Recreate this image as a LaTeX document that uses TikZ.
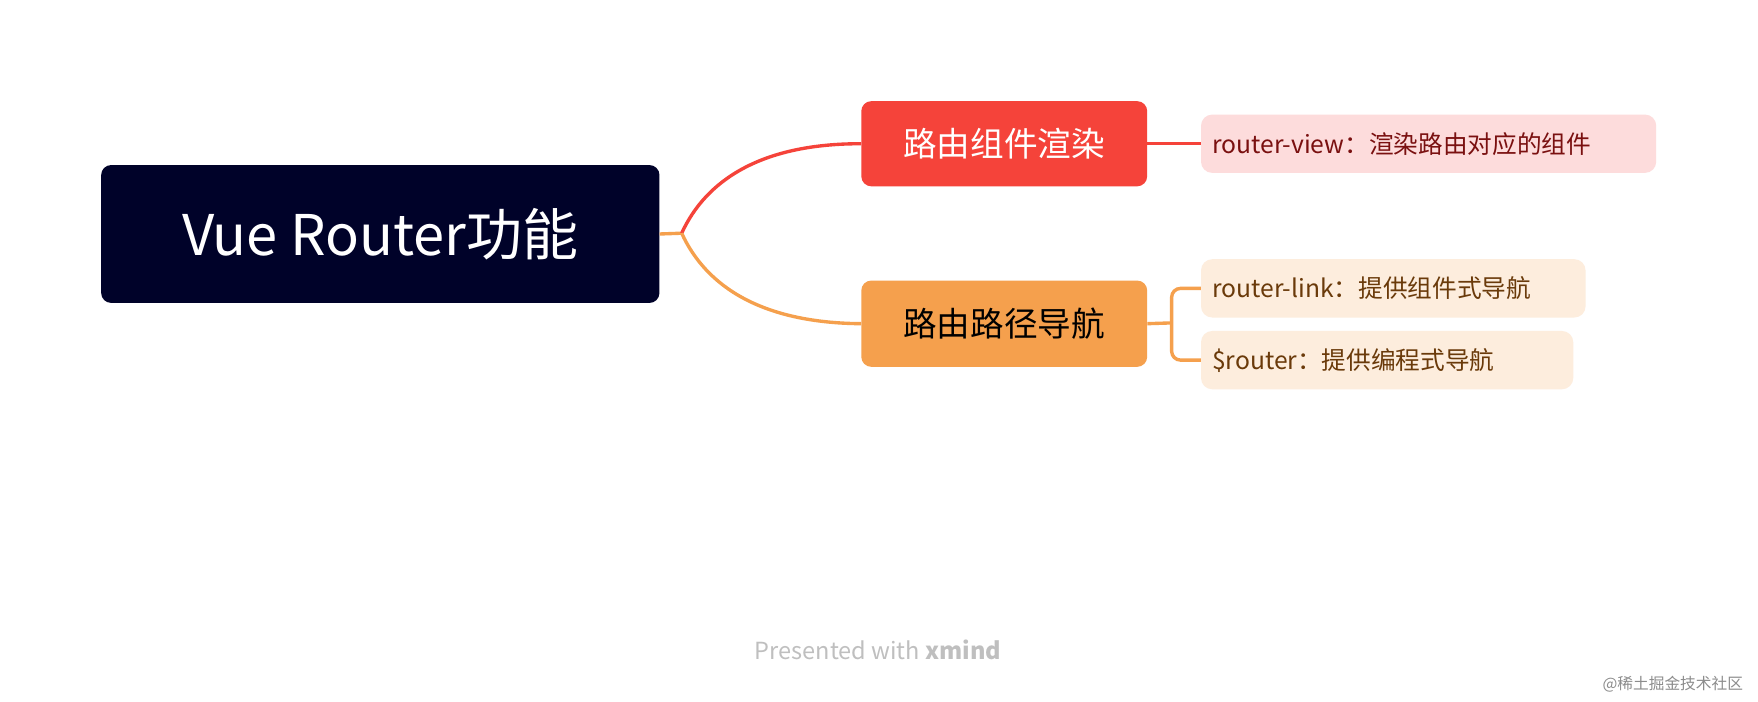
\documentclass[tikz,border=0pt]{standalone}
\usepackage{fontspec}
\setmainfont{Noto Sans CJK SC}
\definecolor{navy}{HTML}{000229}
\definecolor{redn}{HTML}{F5433A}
\definecolor{orn}{HTML}{F5A04D}
\definecolor{leafr}{HTML}{FDDCDC}
\definecolor{leafo}{HTML}{FDEDDD}
\definecolor{txr}{HTML}{7A1010}
\definecolor{txo}{HTML}{6A3A0A}
\tikzset{
 box/.style={rounded corners=9pt,inner sep=0pt,anchor=north west},
 leaf/.style={box,rounded corners=10pt,font=\fontsize{22}{26}\selectfont,inner xsep=10pt,align=left,text width=#1,anchor=north west},
}
\begin{document}
\begin{tikzpicture}[x=1pt,y=-1pt]
\useasboundingbox[fill=white] (0,0) rectangle (1568,626);
\node[box,fill=navy,minimum width=498pt,minimum height=123pt,text=white,font=\fontsize{50}{56}\selectfont] (root) at (90,147) {Vue Router功能};
\node[box,fill=redn,minimum width=255pt,minimum height=76pt,text=white,font=\fontsize{30}{34}\selectfont] (r) at (768,90) {路由组件渲染};
\node[box,fill=orn,minimum width=255pt,minimum height=77pt,text=black,font=\fontsize{30}{34}\selectfont] (o) at (768,250) {路由路径导航};
\node[leaf=386pt,fill=leafr,text=txr,minimum height=52pt] (l1) at (1071,102) {router-view：渲染路由对应的组件};
\node[leaf=323pt,fill=leafo,text=txo,minimum height=52pt] (l2) at (1071,231) {router-link：提供组件式导航};
\node[leaf=312pt,fill=leafo,text=txo,minimum height=52pt] (l3) at (1071,295) {\$router：提供编程式导航};
\coordinate (j) at (608,208);
\draw[orn,line width=3pt] (root.east) -- (j);
\draw[redn,line width=3pt] (j) .. controls (630,160) and (680,128) .. (r.west);
\draw[orn,line width=3pt] (j) .. controls (630,256) and (680,288) .. (o.west);
\draw[redn,line width=3pt] (r.east) -- (l1.west);
\coordinate (k) at (1045,288);
\draw[orn,line width=3pt] (o.east) -- (k);
\draw[orn,line width=3pt,rounded corners=8pt] (l2.west) -| (k) |- (l3.west);
\node[text=black!25,font=\fontsize{21}{24}\selectfont] (p) at (783,580) {Presented with \textbf{xmind}};
\node[text=black!45,font=\fontsize{14}{16}\selectfont] (w) at (1492,610) {@稀土掘金技术社区};
\end{tikzpicture}
\end{document}
